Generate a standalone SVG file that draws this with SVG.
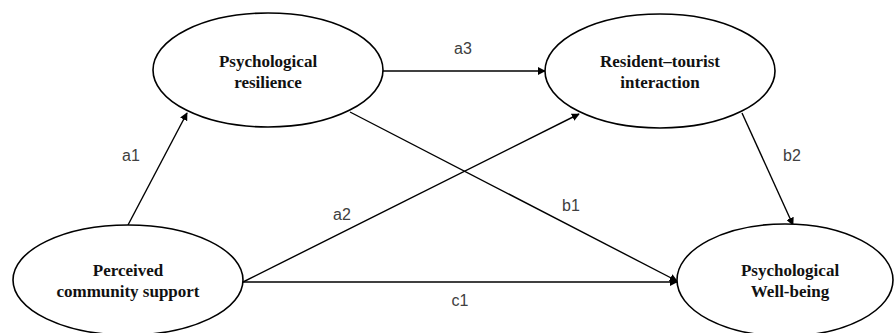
<svg xmlns="http://www.w3.org/2000/svg" width="894" height="333" viewBox="0 0 894 333">
  <style>
    .node ellipse { fill: #ffffff; stroke: #000000; stroke-width: 1.6; }
    .node text { font-family: "Liberation Serif", "Times New Roman", serif; font-weight: bold; font-size: 17px; fill: #111111; text-anchor: middle; }
    .edges line { stroke: #000000; stroke-width: 1.4; marker-end: url(#arrow); }
    .lbl { font-family: "Liberation Sans", Arial, sans-serif; font-size: 16px; fill: #404040; text-anchor: middle; }
  </style>
  <defs>
    <marker id="arrow" viewBox="0 0 10 10" refX="9" refY="5" markerWidth="8" markerHeight="8" markerUnits="userSpaceOnUse" orient="auto">
      <path d="M0,0 L10,5 L0,10 z" fill="#000000"/>
    </marker>
  </defs>
  <rect width="894" height="333" fill="#ffffff"/>

  <g class="edges">
    <line x1="128" y1="225" x2="187" y2="113"/>
    <line x1="383" y1="71" x2="545" y2="71"/>
    <line x1="243" y1="282" x2="579" y2="114"/>
    <line x1="350" y1="112" x2="677" y2="281"/>
    <line x1="243" y1="282" x2="677" y2="282"/>
    <line x1="742" y1="113" x2="793" y2="225"/>
  </g>

  <g id="resilience" class="node">
    <ellipse cx="268" cy="70" rx="115" ry="57"/>
    <text x="268" y="67">Psychological</text>
    <text x="268" y="88">resilience</text>
  </g>
  <g id="interaction" class="node">
    <ellipse cx="660" cy="71" rx="115" ry="57"/>
    <text x="660" y="67">Resident–tourist</text>
    <text x="660" y="88">interaction</text>
  </g>
  <g id="support" class="node">
    <ellipse cx="128" cy="280" rx="115" ry="55"/>
    <text x="128" y="276">Perceived</text>
    <text x="128" y="297">community support</text>
  </g>
  <g id="wellbeing" class="node">
    <ellipse cx="785" cy="280" rx="108" ry="56"/>
    <text x="790" y="276">Psychological</text>
    <text x="790" y="297">Well-being</text>
  </g>

  <g id="labels">
    <text class="lbl" x="131" y="161">a1</text>
    <text class="lbl" x="463" y="54">a3</text>
    <text class="lbl" x="342" y="220">a2</text>
    <text class="lbl" x="571" y="211">b1</text>
    <text class="lbl" x="792" y="161">b2</text>
    <text class="lbl" x="460" y="306">c1</text>
  </g>
</svg>
